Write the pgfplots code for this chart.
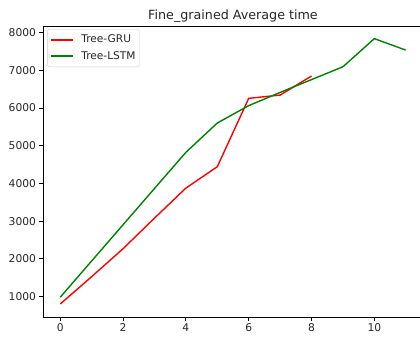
\documentclass[border=0pt]{standalone}
\usepackage{fontspec}
\setmainfont{DejaVu Sans}
\usepackage{pgfplots}
\pgfplotsset{compat=1.18}
\definecolor{mplred}{HTML}{FF0000}
\definecolor{mplgreen}{HTML}{008000}
\begin{document}
\begin{tikzpicture}
\begin{axis}[
  name=ax,
  at={(0pt,0pt)}, anchor=south west,
  scale only axis, width=380pt, height=291pt,
  xmin=-0.55, xmax=11.55, ymin=460, ymax=8170,
  xtick={0,2,4,6,8,10}, ytick={1000,2000,3000,4000,5000,6000,7000,8000},
  tick align=outside, tick pos=left,
  major tick length=3.5pt,
  every tick/.style={black, line width=0.8pt},
  axis line style={draw=none},
  /pgf/number format/1000 sep={},
  /pgf/number format/assume math mode=true,
  ticklabel style={font=\fontsize{10.7}{13}\selectfont, text=black!85},
  legend style={at={(axis description cs:0.011,0.9897)}, anchor=north west,
    draw=black!20, rounded corners=2pt, font=\fontsize{10.6}{13}\selectfont,
    text=black!85,
    inner xsep=2.5pt, inner ysep=3.8pt, row sep=3.3pt, column sep=6pt,
    nodes={inner sep=1.5pt, text height=8pt, text depth=2.4pt}},
  legend cell align=left,
  legend image code/.code={\draw[#1, line width=2pt] (0pt,0pt) -- (22pt,0pt);},
]
\addplot[mplred, line width=1.4pt] coordinates {
 (0,805) (1,1530) (2,2270) (3,3080) (4,3875) (5,4442) (6,6253) (7,6340) (8,6845)};
\addlegendentry{Tree-GRU}
\addplot[mplgreen, line width=1.4pt] coordinates {
 (0,985) (1,1945) (2,2905) (3,3865) (4,4823) (5,5600) (6,6060) (7,6410) (8,6750) (9,7090) (10,7835) (11,7532)};
\addlegendentry{Tree-LSTM}
\end{axis}
\draw[black, line width=0.8pt] (ax.south west) -- (ax.south east);
\draw[black, line width=0.8pt] (ax.north east) -- (ax.north west) -- (ax.south west);
\node[anchor=base, font=\fontsize{12.7}{15}\selectfont, text=black!85] at ([yshift=7pt]ax.north) {Fine\_grained Average time};
\pgfresetboundingbox
\useasboundingbox (-43pt,-21pt) rectangle (377pt,317pt);
\end{tikzpicture}
\end{document}
